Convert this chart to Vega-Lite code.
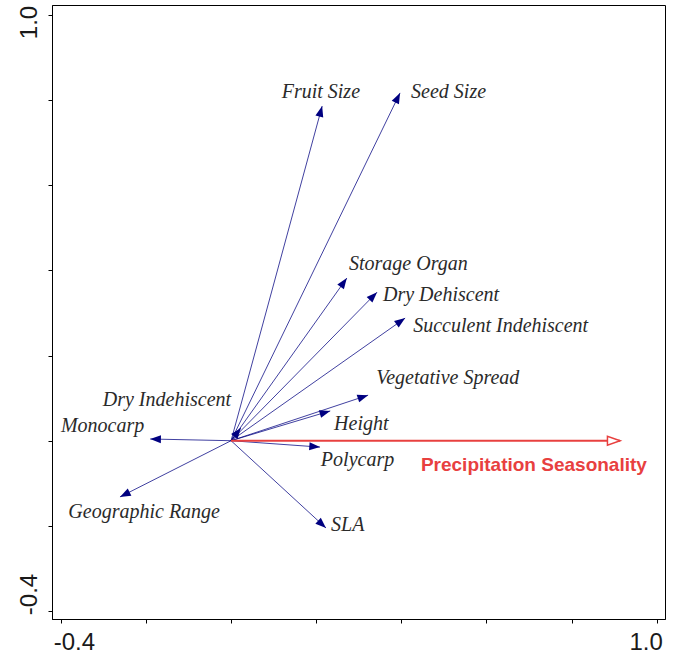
{
  "$schema": "https://vega.github.io/schema/vega-lite/v6.json",
  "width": 613,
  "height": 614,
  "autosize": {"type": "none"},
  "padding": {"left": 52, "top": 5, "right": 12, "bottom": 38},
  "background": "white",
  "config": {
    "view": {"stroke": "black", "strokeWidth": 1},
    "axis": {
      "grid": false,
      "domainColor": "black",
      "tickColor": "black",
      "tickSize": 4,
      "labelFont": "Liberation Sans",
      "labelFontSize": 24,
      "labelColor": "#1a1a1a",
      "title": null
    }
  },
  "datasets": {
    "vectors": [
      {"name": "Fruit Size", "x": 0.214, "y": 0.786, "lx": 0.211, "ly": 0.819, "pos": "center"},
      {"name": "Seed Size", "x": 0.397, "y": 0.817, "lx": 0.423, "ly": 0.819, "pos": "left"},
      {"name": "Storage Organ", "x": 0.272, "y": 0.382, "lx": 0.277, "ly": 0.415, "pos": "left"},
      {"name": "Dry Dehiscent", "x": 0.343, "y": 0.349, "lx": 0.357, "ly": 0.342, "pos": "left"},
      {"name": "Succulent Indehiscent", "x": 0.409, "y": 0.288, "lx": 0.428, "ly": 0.27, "pos": "left"},
      {"name": "Vegetative Spread", "x": 0.322, "y": 0.107, "lx": 0.341, "ly": 0.147, "pos": "left"},
      {"name": "Height", "x": 0.233, "y": 0.07, "lx": 0.242, "ly": 0.039, "pos": "left"},
      {"name": "Polycarp", "x": 0.209, "y": -0.015, "lx": 0.211, "ly": -0.045, "pos": "left"},
      {"name": "Dry Indehiscent", "x": 0.023, "y": 0.03, "lx": 0.0, "ly": 0.096, "pos": "right"},
      {"name": "Monocarp", "x": -0.19, "y": 0.004, "lx": -0.204, "ly": 0.035, "pos": "right"},
      {"name": "Geographic Range", "x": -0.261, "y": -0.132, "lx": -0.026, "ly": -0.167, "pos": "right"},
      {"name": "SLA", "x": 0.223, "y": -0.205, "lx": 0.235, "ly": -0.198, "pos": "left"}
    ],
    "env": [
      {"name": "Precipitation Seasonality", "x": 0.914, "y": 0.0, "lx": 0.446, "ly": -0.057}
    ]
  },
  "layer": [
    {
      "data": {"name": "vectors"},
      "mark": {"type": "rule", "color": "#000080", "strokeWidth": 1, "opacity": 0.75},
      "encoding": {
        "x": {"field": "x", "type": "quantitative", "scale": {"domain": [-0.4207, 1.0195], "nice": false, "zero": false},
          "axis": {"values": [-0.4, -0.2, 0, 0.2, 0.4, 0.6, 0.8, 1.0], "format": ".1f",
            "labelExpr": "(abs(datum.value + 0.4) < 0.001 || abs(datum.value - 1) < 0.001) ? replace(datum.label, '\u2212', '-') : ''",
            "labelPadding": 7,
            "labelOffset": {"condition": {"test": "datum.value < 0", "value": 13}, "value": -11}}},
        "y": {"field": "y", "type": "quantitative", "scale": {"domain": [-0.4188, 1.0235], "nice": false, "zero": false},
          "axis": {"values": [-0.4, -0.2, 0, 0.2, 0.4, 0.6, 0.8, 1.0], "format": ".1f",
            "labelExpr": "(abs(datum.value + 0.4) < 0.001 || abs(datum.value - 1) < 0.001) ? replace(datum.label, '\u2212', '-') : ''",
            "labelAngle": -90, "labelAlign": "center", "labelBaseline": "bottom", "labelPadding": 7,
            "labelOffset": {"condition": {"test": "datum.value < 0", "value": -17}, "value": 7}}},
        "x2": {"datum": 0},
        "y2": {"datum": 0}
      }
    },
    {
      "data": {"name": "vectors"},
      "transform": [{"calculate": "atan2(-datum.y, datum.x) * 180 / PI", "as": "ang"}],
      "mark": {"type": "point", "shape": "M0,0L-2,-0.75L-2,0.75Z", "filled": true, "color": "#000080", "opacity": 1, "size": 115},
      "encoding": {
        "x": {"field": "x", "type": "quantitative"},
        "y": {"field": "y", "type": "quantitative"},
        "angle": {"field": "ang", "type": "quantitative", "scale": null}
      }
    },
    {
      "data": {"name": "env"},
      "mark": {"type": "rule", "color": "#e8403f", "strokeWidth": 2},
      "encoding": {
        "x": {"field": "x", "type": "quantitative"},
        "y": {"field": "y", "type": "quantitative"},
        "x2": {"datum": 0},
        "y2": {"datum": 0}
      }
    },
    {
      "data": {"name": "env"},
      "mark": {"type": "point", "shape": "M0,0L-2,-0.7L-2,0.7Z", "filled": false, "fill": "white", "fillOpacity": 1, "stroke": "#e8403f", "strokeWidth": 1.5, "opacity": 1, "size": 160},
      "encoding": {
        "x": {"field": "x", "type": "quantitative"},
        "y": {"field": "y", "type": "quantitative"}
      }
    },
    {
      "data": {"name": "env"},
      "mark": {"type": "text", "align": "left", "baseline": "middle", "font": "Liberation Sans", "fontWeight": "bold", "fontSize": 19, "color": "#e8403f"},
      "encoding": {
        "x": {"field": "lx", "type": "quantitative"},
        "y": {"field": "ly", "type": "quantitative"},
        "text": {"field": "name"}
      }
    },
    {
      "data": {"name": "vectors"},
      "transform": [{"filter": "datum.pos == 'left'"}],
      "mark": {"type": "text", "align": "left", "baseline": "middle", "font": "Liberation Serif", "fontStyle": "italic", "fontSize": 20, "color": "#2a2a2a"},
      "encoding": {
        "x": {"field": "lx", "type": "quantitative"},
        "y": {"field": "ly", "type": "quantitative"},
        "text": {"field": "name"}
      }
    },
    {
      "data": {"name": "vectors"},
      "transform": [{"filter": "datum.pos == 'center'"}],
      "mark": {"type": "text", "align": "center", "baseline": "middle", "font": "Liberation Serif", "fontStyle": "italic", "fontSize": 20, "color": "#2a2a2a"},
      "encoding": {
        "x": {"field": "lx", "type": "quantitative"},
        "y": {"field": "ly", "type": "quantitative"},
        "text": {"field": "name"}
      }
    },
    {
      "data": {"name": "vectors"},
      "transform": [{"filter": "datum.pos == 'right'"}],
      "mark": {"type": "text", "align": "right", "baseline": "middle", "font": "Liberation Serif", "fontStyle": "italic", "fontSize": 20, "color": "#2a2a2a"},
      "encoding": {
        "x": {"field": "lx", "type": "quantitative"},
        "y": {"field": "ly", "type": "quantitative"},
        "text": {"field": "name"}
      }
    }
  ]
}
